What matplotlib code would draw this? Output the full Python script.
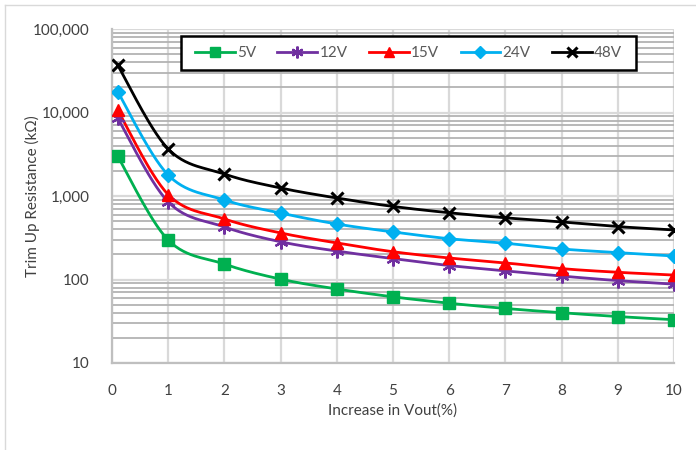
import numpy as np
import matplotlib
matplotlib.use('Agg')
import matplotlib.pyplot as plt
from matplotlib.lines import Line2D
from matplotlib.patches import Rectangle
from matplotlib.ticker import FixedLocator, FuncFormatter, LogLocator, NullFormatter

plt.rcParams['font.family'] = ['Lato', 'DejaVu Sans']

# ---- data ----
x_vals = [0.1, 1, 2, 3, 4, 5, 6, 7, 8, 9, 10]
series_names = ['5V', '12V', '15V', '24V', '48V']
r_5v = [3000, 297, 153, 101, 77, 62, 52, 45, 40, 36, 33]
r_12v = [8600, 850, 426, 283, 219, 178, 147, 127, 110, 97, 88]
r_15v = [10700, 1040, 531, 361, 274, 215, 181, 158, 135, 122, 113]
r_24v = [17800, 1783, 896, 625, 462, 371, 308, 272, 232, 210, 191]
r_48v = [37000, 3656, 1832, 1247, 946, 750, 630, 548, 489, 430, 392]
series_vals = [r_5v, r_12v, r_15v, r_24v, r_48v]
x_ticks = [0, 1, 2, 3, 4, 5, 6, 7, 8, 9, 10]
y_ticks = [10, 100, 1000, 10000, 100000]

colors = ['#00b050', '#7030a0', '#ff0000', '#00b0f0', '#000000']
markers = ['s', (6, 2, 0), '^', 'D', 'x']
msizes = [8, 10, 8.5, 7, 9]
mews = [1, 1.6, 1, 1, 2.2]

W, H = 696, 450
fig = plt.figure(figsize=(W / 100, H / 100), dpi=100)
L, R, T, B = 112, 674, 29, 363
ax = fig.add_axes([L / W, 1 - B / H, (R - L) / W, (B - T) / H])
ax.set_yscale('log')
ax.set_xlim(0, 10)
ax.set_ylim(10, 100000)

# smoothing in display space (Excel-like Bezier)
sx = (R - L) / 10.0
sy = (B - T) / 4.0


def smooth(xs, ys, n=30):
    u = np.array(xs, float) * sx
    v = np.log10(np.array(ys, float)) * sy
    P = np.column_stack([u, v])
    out = []
    m = len(P)
    for i in range(m - 1):
        p0 = P[i - 1] if i > 0 else P[i]
        p1 = P[i]
        p2 = P[i + 1]
        p3 = P[i + 2] if i + 2 < m else P[i + 1]
        c1 = p1 + (p2 - p0) / 6.0
        c2 = p2 - (p3 - p1) / 6.0
        t = np.linspace(0, 1, n)[:, None]
        seg = ((1 - t) ** 3) * p1 + 3 * ((1 - t) ** 2) * t * c1 + 3 * (1 - t) * t ** 2 * c2 + t ** 3 * p2
        out.append(seg if i == 0 else seg[1:])
    S = np.vstack(out)
    return S[:, 0] / sx, 10 ** (S[:, 1] / sy)


handles = []
for name, vals, c, mk, ms, mw in zip(series_names, series_vals, colors, markers, msizes, mews):
    xs, ys = smooth(x_vals, vals)
    ax.plot(xs, ys, color=c, lw=2.0, zorder=3, solid_capstyle='round')
    ax.plot(x_vals, vals, linestyle='none', marker=mk, markersize=ms, color=c,
            markeredgecolor=c, markeredgewidth=mw, zorder=4)
    handles.append(Line2D([0], [0], color=c, lw=2.0, marker=mk, markersize=ms * 0.85,
                          markeredgecolor=c, markeredgewidth=mw, label=name))

# grid
ax.xaxis.set_major_locator(FixedLocator(x_ticks))
ax.yaxis.set_major_locator(FixedLocator(y_ticks))
ax.yaxis.set_minor_locator(LogLocator(base=10, subs=np.arange(2, 10)))
ax.yaxis.set_minor_formatter(NullFormatter())
ax.yaxis.set_major_formatter(FuncFormatter(lambda v, p: f'{int(round(v)):,}'))
ax.grid(True, which='major', axis='both', color='#d9d9d9', lw=1.6, zorder=0)
ax.grid(True, which='minor', axis='y', color='#b3b3b3', lw=1.3, zorder=0)
ax.set_axisbelow(True)
ax.tick_params(axis='both', which='both', length=0, labelsize=11, labelcolor='#404040')
ax.tick_params(axis='x', pad=15)
ax.tick_params(axis='y', pad=16)

for s in ['top', 'right']:
    ax.spines[s].set_visible(False)
for s in ['left', 'bottom']:
    ax.spines[s].set_color('#bfbfbf')
    ax.spines[s].set_linewidth(1.6)

fig.text(32 / W, 1 - ((T + B) / 2) / H, 'Trim Up Resistance (kΩ)', rotation=90,
         ha='center', va='center', fontsize=11, color='#404040')
fig.text(((L + R) / 2) / W, 1 - 411 / H, 'Increase in Vout(%)', ha='center', va='center',
         fontsize=11, color='#404040')

# legend box
lx0, lx1, ly0, ly1 = 181, 636, 36, 70
fig.patches.append(Rectangle((lx0 / W, 1 - ly1 / H), (lx1 - lx0) / W, (ly1 - ly0) / H,
                             transform=fig.transFigure, facecolor='white', edgecolor='black',
                             lw=1.8, zorder=5))
leg = fig.legend(handles=handles, loc='center', ncol=5, frameon=False,
                 bbox_to_anchor=(((lx0 + lx1) / 2) / W, 1 - ((ly0 + ly1) / 2) / H),
                 fontsize=11, handlelength=2.6, handletextpad=0.15, columnspacing=1.4,
                 labelcolor='#595959')
leg.set_zorder(6)

# outer border
fig.add_artist(Line2D([5 / W, 5 / W], [0, 1 - 5 / H], transform=fig.transFigure, color='#d9d9d9', lw=1))
fig.add_artist(Line2D([5 / W, 1], [1 - 5 / H, 1 - 5 / H], transform=fig.transFigure, color='#d9d9d9', lw=1))

fig.savefig('out.png', dpi=100)
